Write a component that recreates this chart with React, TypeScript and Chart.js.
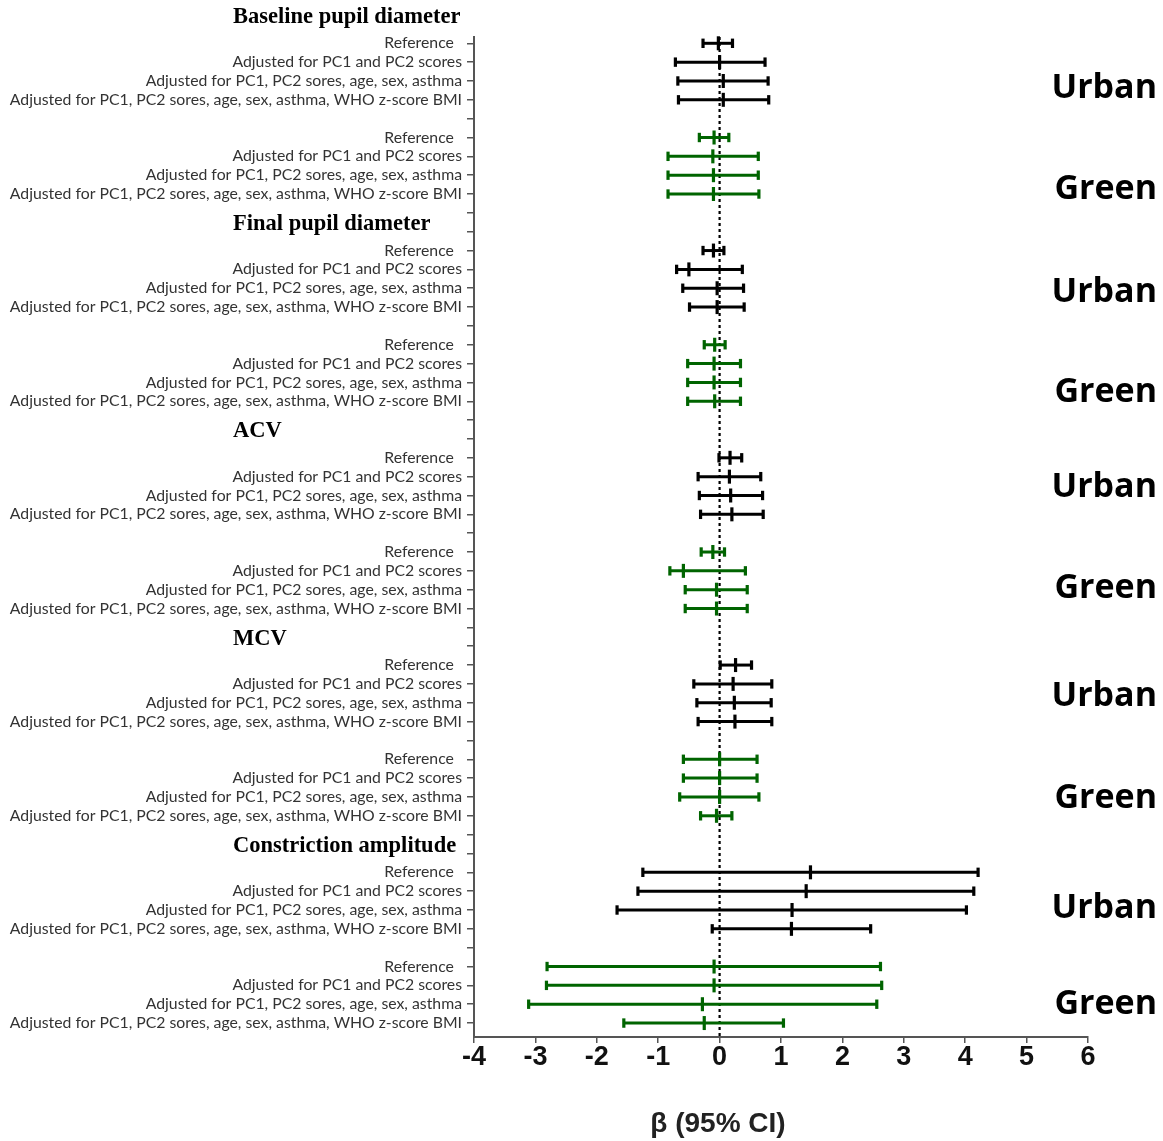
import React, { useEffect, useRef } from "react";
import { Chart, registerables } from "chart.js";
Chart.register(...registerables);

// ---------- data ----------
const measures = [
  "Baseline pupil diameter",
  "Final pupil diameter",
  "ACV",
  "MCV",
  "Constriction amplitude",
];
const models = [
  "Reference  ",
  "Adjusted for PC1 and PC2 scores",
  "Adjusted for PC1, PC2 sores, age, sex, asthma",
  "Adjusted for PC1, PC2 sores, age, sex, asthma, WHO z-score BMI",
];
const groups = ["Urban", "Green"];

const urbanBeta = [
  [-0.02, 0.0, 0.06, 0.06],
  [-0.1, -0.5, -0.04, -0.04],
  [0.17, 0.16, 0.18, 0.2],
  [0.26, 0.22, 0.24, 0.25],
  [1.48, 1.41, 1.18, 1.17],
];
const urbanLower = [
  [-0.27, -0.72, -0.68, -0.67],
  [-0.27, -0.7, -0.6, -0.49],
  [-0.01, -0.35, -0.33, -0.31],
  [0.01, -0.42, -0.37, -0.35],
  [-1.25, -1.33, -1.67, -0.12],
];
const urbanUpper = [
  [0.21, 0.74, 0.79, 0.8],
  [0.07, 0.37, 0.39, 0.4],
  [0.36, 0.67, 0.7, 0.71],
  [0.52, 0.85, 0.84, 0.85],
  [4.21, 4.14, 4.02, 2.46],
];
const greenBeta = [
  [-0.09, -0.11, -0.1, -0.1],
  [-0.08, -0.09, -0.09, -0.08],
  [-0.11, -0.59, -0.05, -0.05],
  [0.0, 0.0, 0.0, -0.05],
  [-0.09, -0.09, -0.28, -0.25],
];
const greenLower = [
  [-0.33, -0.84, -0.84, -0.84],
  [-0.25, -0.52, -0.52, -0.52],
  [-0.3, -0.81, -0.56, -0.56],
  [-0.59, -0.59, -0.65, -0.31],
  [-2.81, -2.82, -3.11, -1.56],
];
const greenUpper = [
  [0.15, 0.63, 0.63, 0.64],
  [0.09, 0.34, 0.34, 0.34],
  [0.08, 0.42, 0.45, 0.45],
  [0.61, 0.61, 0.64, 0.2],
  [2.62, 2.64, 2.56, 1.04],
];
const xTickMin = -4;
const xTickMax = 6;
const xTitle = "β (95% CI)";

// ---------- layout / style ----------
const W = 1163;
const H = 1141;
const ROWS_PER_SECTION = 11;
const GREEN_OFFSET = 5;
const urbanLabelOffset = [2.4, 2.2, 1.55, 1.65, 1.9];
const greenLabelOffset = [2.75, 2.55, 1.95, 2.05, 2.0];
const colors = ["#000000", "#006400"];

const urbanRow = (s: number, k: number) => s * ROWS_PER_SECTION + k;
const greenRow = (s: number, k: number) => s * ROWS_PER_SECTION + GREEN_OFFSET + k;
const titleRow = (s: number) => s * ROWS_PER_SECTION - 1;
const lastRow = greenRow(measures.length - 1, models.length - 1);

function labelFor(v: number): string {
  const r = Math.round(v);
  const s = Math.floor((r + 1) / ROWS_PER_SECTION);
  const local = r - s * ROWS_PER_SECTION;
  if (local >= 0 && local < models.length) return models[local];
  if (local >= GREEN_OFFSET && local < GREEN_OFFSET + models.length) return models[local - GREEN_OFFSET];
  return "";
}

export default function App() {
  const ref = useRef<HTMLCanvasElement>(null);
  useEffect(() => {
    const datasets: any[] = [];
    const groupData = [
      { beta: urbanBeta, lo: urbanLower, hi: urbanUpper, row: urbanRow },
      { beta: greenBeta, lo: greenLower, hi: greenUpper, row: greenRow },
    ];
    groupData.forEach((g, gi) => {
      const est: any[] = [];
      measures.forEach((_, s) => {
        models.forEach((_, k) => {
          const y = g.row(s, k);
          datasets.push({
            data: [
              { x: g.lo[s][k], y },
              { x: g.hi[s][k], y },
            ],
            showLine: true,
            borderColor: colors[gi],
            borderWidth: 3,
            pointStyle: "line",
            rotation: 90,
            pointRadius: 4.7,
            pointBorderWidth: 3.2,
            pointBorderColor: colors[gi],
            pointBackgroundColor: colors[gi],
            clip: false,
          });
          est.push({ x: g.beta[s][k], y });
        });
      });
      datasets.push({
        data: est,
        showLine: false,
        pointStyle: "line",
        rotation: 90,
        pointRadius: 7,
        pointBorderWidth: 3.2,
        pointBorderColor: colors[gi],
        pointBackgroundColor: colors[gi],
        clip: false,
      });
    });

    const overlay = {
      id: "overlay",
      beforeDatasetsDraw(chart: any) {
        const { ctx, chartArea, scales } = chart;
        const x0 = scales.x.getPixelForValue(0);
        ctx.save();
        ctx.strokeStyle = "#000";
        ctx.lineWidth = 2.2;
        ctx.setLineDash([3, 3]);
        ctx.beginPath();
        ctx.moveTo(x0, chartArea.top);
        ctx.lineTo(x0, chartArea.bottom);
        ctx.stroke();
        ctx.restore();
      },
      afterDraw(chart: any) {
        const { ctx, scales } = chart;
        const ys = scales.y;
        ctx.save();
        ctx.fillStyle = "#000";
        ctx.textBaseline = "middle";
        ctx.textAlign = "left";
        ctx.font = "bold 22.5px 'Liberation Serif', 'Times New Roman', serif";
        measures.forEach((m, s) => {
          ctx.fillText(m, 233, ys.getPixelForValue(titleRow(s)) - 7.5);
        });
        ctx.textAlign = "right";
        ctx.font = "bold 34px 'Open Sans', 'Noto Sans', sans-serif";
        measures.forEach((_, s) => {
          ctx.fillText(groups[0], 1157, ys.getPixelForValue(urbanRow(s, 0) + urbanLabelOffset[s]));
          ctx.fillText(groups[1], 1157, ys.getPixelForValue(greenRow(s, 0) + greenLabelOffset[s]));
        });
        ctx.textAlign = "center";
        ctx.fillStyle = "#222";
        ctx.font = "bold 28px 'Liberation Sans', Arial, sans-serif";
        ctx.fillText(xTitle, 718, 1124);
        ctx.restore();
      },
    };

    const chart = new Chart(ref.current!, {
      type: "scatter",
      data: { datasets },
      options: {
        responsive: false,
        maintainAspectRatio: false,
        animation: false,
        devicePixelRatio: 1,
        layout: { padding: { top: 37, right: 75, left: 0, bottom: 0 } },
        plugins: { legend: { display: false }, tooltip: { enabled: false } },
        scales: {
          x: {
            type: "linear",
            min: xTickMin,
            max: xTickMax,
            afterFit: (s: any) => {
              s.height = H - 1037;
            },
            ticks: {
              stepSize: 1,
              color: "#111",
              padding: -2,
              font: { family: "'Liberation Sans Narrow', 'Liberation Sans', Arial, sans-serif", size: 27, weight: "bold" },
            },
            grid: { display: true, drawOnChartArea: false, drawTicks: true, tickLength: 6, color: "#555", lineWidth: 1.5 },
            border: { display: true, color: "#555", width: 2 },
            title: { display: false },
          },
          y: {
            type: "linear",
            reverse: true,
            min: -0.334,
            max: lastRow + 0.74,
            afterBuildTicks: (s: any) => {
              const t: any[] = [];
              for (let i = 0; i <= lastRow; i++) t.push({ value: i });
              s.ticks = t;
            },
            afterFit: (s: any) => {
              s.width = 474;
            },
            ticks: {
              autoSkip: false,
              padding: 5,
              color: "#333",
              font: { family: "Lato, 'Open Sans', sans-serif", size: 15.8 },
              callback: (v: any) => labelFor(Number(v)),
            },
            grid: { display: true, drawOnChartArea: false, drawTicks: true, tickLength: 7, color: "#555", lineWidth: 1.5 },
            border: { display: true, color: "#555", width: 2 },
          },
        },
      },
      plugins: [overlay],
    } as any);
    return () => chart.destroy();
  }, []);
  return (
    <div style={{ position: "absolute", left: 0, top: 0, width: W, height: H, background: "#fff" }}>
      <canvas ref={ref} width={W} height={H} style={{ display: "block", width: W, height: H }} />
    </div>
  );
}
